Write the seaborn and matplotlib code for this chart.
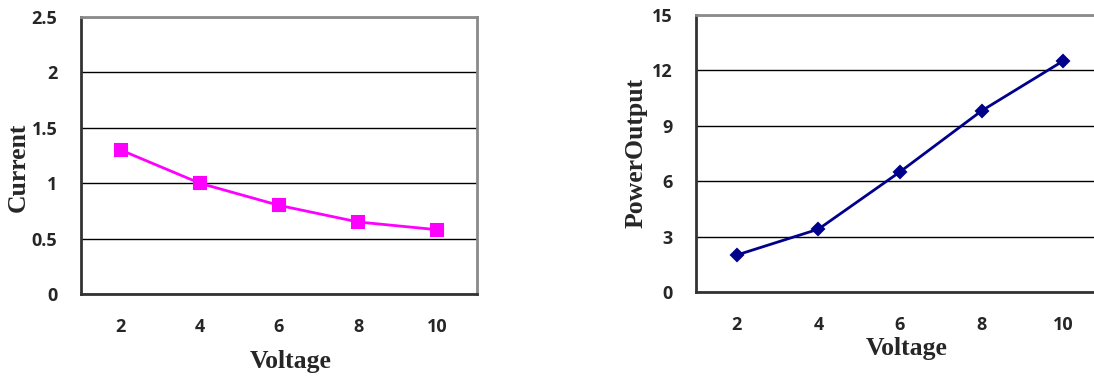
import matplotlib
matplotlib.use("Agg")
import matplotlib.pyplot as plt
import seaborn as sns
import numpy as np

voltage = ["2", "4", "6", "8", "10"]
current = [1.3, 1.0, 0.8, 0.65, 0.58]
power_output = [2.0, 3.4, 6.5, 9.8, 12.5]

sns.set_style("white")

fig = plt.figure(figsize=(10.94, 3.79), dpi=100)
ax1 = fig.add_axes([81 / 1094, 85 / 379, 396 / 1094, 277 / 379])
ax2 = fig.add_axes([696 / 1094, 87 / 379, 408 / 1094, 277.3 / 379])

tick_font = dict(family="Open Sans", weight="bold", size=13)
label_font = dict(family="Liberation Serif", weight="bold", size=18.5)


def style_axes(ax, yticks, xlabel, ylabel, xlab_pos, ylab_pos):
    ax.set_xlim(-0.5, 4.5)
    ax.set_ylim(yticks[0], yticks[-1])
    ax.set_yticks(yticks)
    ax.set_yticklabels([f"{t:g}" for t in yticks], fontdict=tick_font)
    ax.set_xticks(range(len(voltage)))
    ax.set_xticklabels(voltage, fontdict=tick_font)
    ax.set_xticks(np.arange(-0.5, 5, 1.0), minor=True)
    ax.tick_params(axis="x", which="major", length=0, pad=17)
    ax.tick_params(axis="x", which="minor", length=7, width=1.3, color="#333333")
    ax.tick_params(axis="y", which="major", length=7, width=1.0, color="#333333", pad=10)
    ax.grid(axis="y", color="black", linewidth=1.0)
    ax.grid(axis="x", visible=False)
    for side in ["left", "bottom"]:
        ax.spines[side].set_color("#333333")
        ax.spines[side].set_linewidth(2.0)
    for side in ["top", "right"]:
        ax.spines[side].set_visible(True)
        ax.spines[side].set_color("#8a8a8a")
        ax.spines[side].set_linewidth(2.0)
    ax.set_xlabel(xlabel, fontdict=label_font, va="center")
    ax.set_ylabel(ylabel, fontdict=label_font, va="center")
    ax.xaxis.set_label_coords(*xlab_pos)
    ax.yaxis.set_label_coords(*ylab_pos)


sns.pointplot(x=voltage, y=current, ax=ax1, color="#ff00ff", markers="s",
              markersize=8.5, linewidth=2.0, errorbar=None, order=voltage)
style_axes(ax1, [0, 0.5, 1, 1.5, 2, 2.5], "Voltage", "Current",
           (0.53, -0.245), (-0.159, 0.458))

sns.pointplot(x=voltage, y=power_output, ax=ax2, color="#00008b", markers="D",
              markersize=6.5, linewidth=2.0, errorbar=None, order=voltage)
style_axes(ax2, [0, 3, 6, 9, 12, 15], "Voltage", "PowerOutput",
           (0.517, -0.202), (-0.147, 0.50))

fig.savefig("out.png", dpi=100)
